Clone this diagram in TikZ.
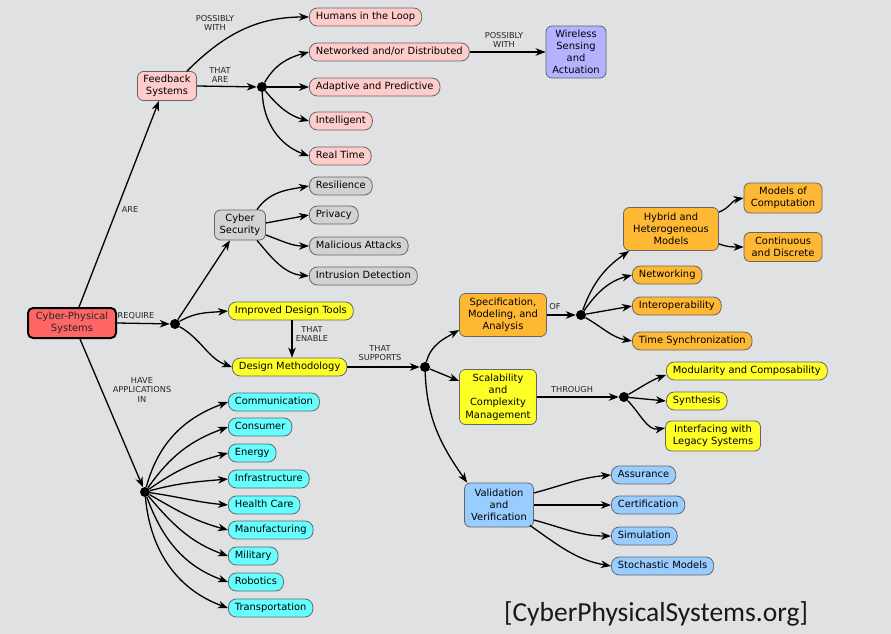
\documentclass[tikz,border=0pt]{standalone}
\usepackage{fontspec}
\setmainfont{DejaVu Sans}
\newfontfamily\calibfont{Carlito}
\usetikzlibrary{arrows.meta}
\definecolor{bg}{RGB}{224,225,227}
\definecolor{cpink}{RGB}{255,204,204}
\definecolor{cviolet}{RGB}{179,179,255}
\definecolor{cgray}{RGB}{210,210,210}
\definecolor{cred}{RGB}{255,102,102}
\definecolor{cyel}{RGB}{255,255,40}
\definecolor{corange}{RGB}{255,184,51}
\definecolor{cblue}{RGB}{153,204,255}
\definecolor{ccyan}{RGB}{102,255,255}
\newcommand\nfont{\fontsize{9.9}{12.2}\selectfont}
\newcommand\lfont{\fontsize{8.2}{9.6}\selectfont}
\begin{document}
\begin{tikzpicture}[x=1pt,y=1pt,
 pill/.style={draw=black!60, line width=0.8pt, rounded corners=8pt, inner xsep=6.5pt, inner ysep=0pt, text height=7.6pt, text depth=2.2pt, minimum height=18pt, font=\nfont, anchor=west},
 box/.style={draw=black!60, line width=0.8pt, rounded corners=6pt, align=center, inner sep=1pt, font=\nfont},
 dotn/.style={circle, fill=black, inner sep=0pt, minimum size=10pt},
 arr/.style={draw=black, line width=1.3pt, -{Stealth[length=10pt,width=7.5pt,inset=3pt]}},
 lab/.style={font=\lfont, text=black!85, align=center, inner sep=0pt},
 pk/.style={pill, fill=cpink},
 gy/.style={pill, fill=cgray},
 yl/.style={pill, fill=cyel},
 og/.style={pill, fill=corange},
 bl/.style={pill, fill=cblue},
 cy/.style={pill, fill=ccyan}
]
\fill[bg] (0,0) rectangle (891,-634);
\useasboundingbox (0,0) rectangle (891,-634);

% ---- nodes ----
\node[box, fill=cred, draw=black, line width=2pt, rounded corners=5pt, minimum width=88pt, minimum height=30pt, text=black!85] (cps) at (72,-323) {Cyber-Physical\\Systems};

\node[box, fill=cpink, minimum width=59pt, minimum height=29pt] (fb) at (167,-86) {Feedback\\Systems};
\node[pk] (hum) at (309,-17) {Humans in the Loop};
\node[pk] (net) at (309,-52) {Networked and/or Distributed};
\node[pk] (ada) at (309,-87) {Adaptive and Predictive};
\node[pk] (int) at (309,-121) {Intelligent};
\node[pk] (rt) at (309,-156) {Real Time};
\node[dotn] (d1) at (262,-87) {};
\node[box, fill=cviolet, minimum width=60pt, minimum height=52pt] (wsa) at (576,-52) {Wireless\\Sensing\\and\\Actuation};

\node[box, fill=cgray, minimum width=51pt, minimum height=30pt] (cs) at (240,-225) {Cyber\\Security};
\node[gy] (res) at (309,-186) {Resilience};
\node[gy] (priv) at (309,-215) {Privacy};
\node[gy] (mal) at (309,-246) {Malicious Attacks};
\node[gy] (ids) at (309,-276) {Intrusion Detection};

\node[dotn] (d2) at (175,-324) {};
\node[yl] (idt) at (228,-311) {Improved Design Tools};
\node[yl] (dm) at (232,-367) {Design Methodology};
\node[dotn] (d3) at (425,-367) {};

\node[box, fill=corange, minimum width=87pt, minimum height=43pt] (spec) at (503,-315) {Specification,\\Modeling, and\\Analysis};
\node[dotn] (d4) at (581,-315) {};
\node[box, fill=corange, minimum width=95pt, minimum height=43pt] (hyb) at (671,-229) {Hybrid and\\Heterogeneous\\Models};
\node[box, fill=corange, minimum width=78pt, minimum height=30pt] (moc) at (783,-198) {Models of\\Computation};
\node[box, fill=corange, minimum width=78pt, minimum height=29pt] (cad) at (783,-247) {Continuous\\and Discrete};
\node[og] (netw) at (632,-275) {Networking};
\node[og] (iop) at (632,-306) {Interoperability};
\node[og] (ts) at (632,-341) {Time Synchronization};

\node[box, fill=cyel, minimum width=77pt, minimum height=55pt] (scal) at (498,-397) {Scalability\\and\\Complexity\\Management};
\node[dotn] (d5) at (624,-397) {};
\node[yl] (mod) at (666,-371) {Modularity and Composability};
\node[yl] (syn) at (666,-401) {Synthesis};
\node[box, fill=cyel, minimum width=95pt, minimum height=30pt] (ifl) at (713,-436) {Interfacing with\\Legacy Systems};

\node[box, fill=cblue, minimum width=69pt, minimum height=44pt] (val) at (499,-505) {Validation\\and\\Verification};
\node[bl] (ass) at (611,-475) {Assurance};
\node[bl] (cert) at (611,-505) {Certification};
\node[bl] (sim) at (611,-536) {Simulation};
\node[bl] (sto) at (611,-566) {Stochastic Models};

\node[dotn] (d6) at (145,-492) {};
\node[cy] (comm) at (228,-402) {Communication};
\node[cy] (cons) at (228,-427) {Consumer};
\node[cy] (en) at (228,-453) {Energy};
\node[cy] (inf) at (228,-479) {Infrastructure};
\node[cy] (hc) at (228,-505) {Health Care};
\node[cy] (man) at (228,-530) {Manufacturing};
\node[cy] (mil) at (228,-556) {Military};
\node[cy] (rob) at (228,-582) {Robotics};
\node[cy] (tra) at (228,-608) {Transportation};

\node[font=\calibfont\fontsize{27.5}{32}\selectfont, text=black!90, inner sep=0pt] (src) at (656,-614) {[CyberPhysicalSystems.org]};

% ---- labels ----
\node[lab] (l1) at (215,-23) {POSSIBLY\\WITH};
\node[lab] (l2) at (220,-75) {THAT\\ARE};
\node[lab] (l3) at (504,-40) {POSSIBLY\\WITH};
\node[lab] (l4) at (130,-210) {ARE};
\node[lab] (l5) at (136,-316) {REQUIRE};
\node[lab] (l6) at (312,-334) {THAT\\ENABLE};
\node[lab] (l7) at (380,-353) {THAT\\SUPPORTS};
\node[lab] (l8) at (142,-390) {HAVE\\APPLICATIONS\\IN};
\node[lab] (l9) at (555,-307) {OF};
\node[lab] (l10) at (572,-390) {THROUGH};

% ---- connectors ----
\draw[arr] ([xshift=7pt]cps.north) -- ([xshift=-8pt]fb.south);
\draw[arr] ([xshift=20pt]fb.north) to[out=45,in=180] (hum.west);
\draw[arr] (fb.east) -- (d1);
\draw[arr] (d1) to[out=60,in=195] (net.west);
\draw[arr] (d1) -- (ada.west);
\draw[arr] (d1) to[out=-50,in=165] (int.west);
\draw[arr] (d1) to[out=-88,in=160] (rt.west);
\draw[arr] (net.east) -- (wsa.west);

\draw[arr] (cps.east) -- (d2);
\draw[arr] (d2) -- ([xshift=-10pt]cs.south);
\draw[arr] (d2) to[out=30,in=185] (idt.west);
\draw[arr] (d2) to[out=-30,in=160] (dm.west);
\draw[arr] ([xshift=17pt]cs.north) to[out=55,in=190] (res.west);
\draw[arr] ([yshift=2pt]cs.east) -- (priv.west);
\draw[arr] ([yshift=-10pt]cs.east) to[out=-20,in=180] (mal.west);
\draw[arr] ([xshift=17pt]cs.south) to[out=-50,in=175] (ids.west);
\draw[arr] (idt.south -| 292,0) -- (dm.north -| 292,0);
\draw[arr] (dm.east) -- (d3);

\draw[arr] (d3) to[out=75,in=210] ([yshift=-15pt]spec.west);
\draw[arr] (d3) -- ([yshift=16pt]scal.west);
\draw[arr] (d3) to[out=-88,in=125] ([xshift=3pt]val.north west);
\draw[arr] (spec.east) -- (d4);
\draw[arr] (d4) to[out=70,in=215] ([xshift=6pt]hyb.south west);
\draw[arr] (d4) to[out=55,in=195] (netw.west);
\draw[arr] (d4) -- (iop.west);
\draw[arr] (d4) to[out=-30,in=170] (ts.west);
\draw[arr] ([yshift=-5pt]hyb.north east) to[out=20,in=190] (moc.west);
\draw[arr] ([yshift=7pt]hyb.south east) to[out=-20,in=180] (cad.west);

\draw[arr] (scal.east) -- (d5);
\draw[arr] (d5) to[out=30,in=200] ([yshift=-4pt]mod.west);
\draw[arr] (d5) -- (syn.west);
\draw[arr] (d5) to[out=-45,in=190] ([yshift=8pt]ifl.west);

\draw[arr] ([yshift=12pt]val.east) to[out=15,in=185] (ass.west);
\draw[arr] (val.east) -- (cert.west);
\draw[arr] ([yshift=-15pt]val.east) to[out=-15,in=180] (sim.west);
\draw[arr] ([xshift=-4pt,yshift=2pt]val.south east) to[out=-35,in=170] (sto.west);

\draw[arr] ([xshift=8pt]cps.south) -- (d6);
\draw[arr] (d6) to[out=75,in=200] (comm.west);
\draw[arr] (d6) to[out=55,in=200] (cons.west);
\draw[arr] (d6) to[out=35,in=195] (en.west);
\draw[arr] (d6) to[out=15,in=185] (inf.west);
\draw[arr] (d6) to[out=-8,in=175] (hc.west);
\draw[arr] (d6) to[out=-30,in=165] (man.west);
\draw[arr] (d6) to[out=-50,in=160] (mil.west);
\draw[arr] (d6) to[out=-70,in=160] (rob.west);
\draw[arr] (d6) to[out=-85,in=160] (tra.west);
\end{tikzpicture}
\end{document}
